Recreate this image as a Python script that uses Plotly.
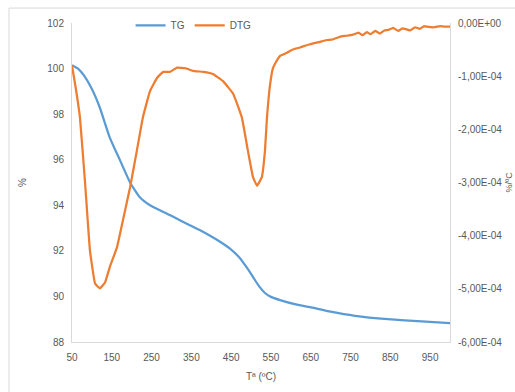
import plotly.graph_objects as go

# ---- data ----
tg_temp = [50, 65, 80, 100, 120, 145, 171, 196, 221, 246, 271, 296, 321, 346, 372, 397, 422,
           447, 470, 490, 505, 520, 535, 550, 573, 610, 648, 700, 761, 844, 929, 1000]
tg_pct = [100.15, 100.0, 99.7, 99.1, 98.28, 96.97, 95.96, 95.0, 94.34, 94.0, 93.78, 93.57,
          93.34, 93.12, 92.9, 92.66, 92.4, 92.1, 91.72, 91.25, 90.85, 90.45, 90.15, 89.98,
          89.84, 89.66, 89.53, 89.33, 89.15, 89.0, 88.9, 88.83]

dtg_temp = [50, 60, 70, 83, 95, 108, 120, 133, 145, 163, 178, 196, 213, 228, 246, 264, 279,
            296, 314, 334, 354, 380, 404, 429, 455, 477, 492, 505, 515, 527, 535, 540, 548,
            555, 560, 573, 590, 605, 623, 648, 670, 690, 705, 723, 740, 756, 770, 780, 791,
            800, 812, 824, 835, 845, 857, 870, 880, 891, 900, 912, 924, 935, 942, 960, 975,
            992, 1000]
dtg_e4 = [-0.80, -1.25, -1.78, -3.02, -4.27, -4.90, -4.99, -4.88, -4.59, -4.22, -3.71, -3.09,
          -2.40, -1.78, -1.28, -1.03, -0.92, -0.92, -0.84, -0.85, -0.90, -0.92, -0.96, -1.09,
          -1.33, -1.78, -2.40, -2.90, -3.06, -2.90, -2.40, -1.78, -1.15, -0.85, -0.77, -0.62,
          -0.56, -0.50, -0.46, -0.40, -0.36, -0.32, -0.31, -0.26, -0.24, -0.22, -0.18, -0.23,
          -0.17, -0.21, -0.15, -0.20, -0.14, -0.13, -0.09, -0.15, -0.10, -0.12, -0.14, -0.08,
          -0.11, -0.06, -0.07, -0.08, -0.06, -0.07, -0.07]
dtg_val = [v * 1e-4 for v in dtg_e4]

x_ticks = [50, 150, 250, 350, 450, 550, 650, 750, 850, 950]
y_ticks = [88, 90, 92, 94, 96, 98, 100, 102]
y2_tickvals = [0, -1e-4, -2e-4, -3e-4, -4e-4, -5e-4, -6e-4]
y2_ticktext = ["0,00E+00", "-1,00E-04", "-2,00E-04", "-3,00E-04", "-4,00E-04",
               "-5,00E-04", "-6,00E-04"]

FONT = "Liberation Sans"
GRAY = "#595959"
AXIS = "#d9d9d9"

fig = go.Figure()
fig.add_trace(go.Scatter(x=tg_temp, y=tg_pct, name="TG", mode="lines",
                         line=dict(color="#5b9bd5", width=2.25, shape="spline", smoothing=0.5)))
fig.add_trace(go.Scatter(x=dtg_temp, y=dtg_val, name="DTG", mode="lines", yaxis="y2",
                         line=dict(color="#ed7d31", width=2.25, shape="spline", smoothing=0.3)))

fig.update_layout(
    width=515, height=392,
    margin=dict(l=72, r=65, t=22, b=50),
    paper_bgcolor="white", plot_bgcolor="white",
    font=dict(family=FONT, size=10, color=GRAY),
    showlegend=True,
    legend=dict(orientation="h", x=0.155, xanchor="left", y=1.035, yanchor="top",
                font=dict(size=10, color=GRAY), bgcolor="rgba(0,0,0,0)",
                itemwidth=30, tracegroupgap=0),
    xaxis=dict(range=[50, 1000], tickvals=x_ticks, showgrid=False, zeroline=False,
               showline=True, linecolor=AXIS, linewidth=1, ticks="", ticklabelstandoff=6,
               title=dict(text="Tª (ºC)", font=dict(size=10, color=GRAY), standoff=10)),
    yaxis=dict(range=[88, 102], tickvals=y_ticks, showgrid=False, zeroline=False,
               showline=True, linecolor=AXIS, linewidth=1, ticks="", ticklabelstandoff=5,
               title=dict(text="%", font=dict(size=10, color=GRAY), standoff=18)),
    yaxis2=dict(range=[-6e-4, 0], overlaying="y", side="right", tickvals=y2_tickvals,
                ticktext=y2_ticktext, showgrid=False, zeroline=False, showline=True,
                linecolor=AXIS, linewidth=1, ticks="", ticklabelstandoff=5),
    shapes=[dict(type="rect", xref="paper", yref="paper",
                 x0=(9 - 72) / 378, x1=(600 - 72) / 378,
                 y0=1 - (480 - 22) / 320, y1=1 + (22 - 7) / 320,
                 line=dict(color=AXIS, width=1), fillcolor="rgba(0,0,0,0)", layer="below")],
    annotations=[dict(text="%/ºC", xref="paper", yref="paper", x=(508 - 72) / 378,
                      y=1 - (182 - 22) / 320, showarrow=False, textangle=-90,
                      xanchor="center", yanchor="middle", font=dict(size=9, color=GRAY))],
)

fig.write_html("out.html")
